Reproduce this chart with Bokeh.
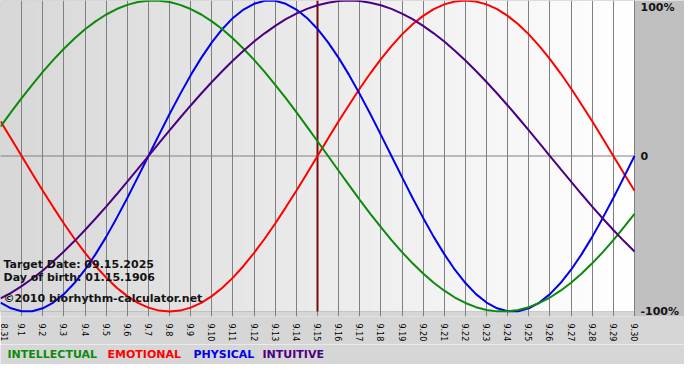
import numpy as np
from bokeh.plotting import figure
from bokeh.layouts import column
from bokeh.models import Label, FixedTicker, BoxAnnotation
from bokeh.core.properties import value
from bokeh.embed import file_html
from bokeh.resources import INLINE

# ---- data ----
dates = ["8.31", "9.1", "9.2", "9.3", "9.4", "9.5", "9.6", "9.7", "9.8", "9.9",
         "9.10", "9.11", "9.12", "9.13", "9.14", "9.15", "9.16", "9.17", "9.18",
         "9.19", "9.20", "9.21", "9.22", "9.23", "9.24", "9.25", "9.26", "9.27",
         "9.28", "9.29", "9.30"]
target_date = "9.15"

# readings every half day, from 8.31 to 9.30
physical = [-0.942, -0.979, -0.998, -0.998, -0.979, -0.942, -0.888, -0.817, -0.731, -0.631,
            -0.520, -0.398, -0.270, -0.136, 0.000, 0.136, 0.270, 0.398, 0.520, 0.631,
            0.731, 0.817, 0.888, 0.942, 0.979, 0.998, 0.998, 0.979, 0.942, 0.888,
            0.817, 0.731, 0.631, 0.520, 0.398, 0.270, 0.136, 0.000, -0.136, -0.270,
            -0.398, -0.520, -0.631, -0.731, -0.817, -0.888, -0.942, -0.979, -0.998, -0.998,
            -0.979, -0.942, -0.888, -0.817, -0.731, -0.631, -0.520, -0.398, -0.270, -0.136, 0.000]
emotional = [0.223, 0.112, 0.000, -0.112, -0.223, -0.330, -0.434, -0.532, -0.623, -0.707,
             -0.782, -0.847, -0.901, -0.944, -0.975, -0.994, -1.000, -0.994, -0.975, -0.944,
             -0.901, -0.847, -0.782, -0.707, -0.623, -0.532, -0.434, -0.330, -0.223, -0.112,
             0.000, 0.112, 0.223, 0.330, 0.434, 0.532, 0.623, 0.707, 0.782, 0.847,
             0.901, 0.944, 0.975, 0.994, 1.000, 0.994, 0.975, 0.944, 0.901, 0.847,
             0.782, 0.707, 0.623, 0.532, 0.434, 0.330, 0.223, 0.112, 0.000, -0.112, -0.223]
intellectual = [0.189, 0.282, 0.372, 0.458, 0.541, 0.618, 0.690, 0.756, 0.815, 0.866,
                0.910, 0.945, 0.972, 0.990, 0.999, 0.999, 0.990, 0.972, 0.945, 0.910,
                0.866, 0.815, 0.756, 0.690, 0.618, 0.541, 0.458, 0.372, 0.282, 0.189,
                0.095, 0.000, -0.095, -0.189, -0.282, -0.372, -0.458, -0.541, -0.618, -0.690,
                -0.756, -0.815, -0.866, -0.910, -0.945, -0.972, -0.990, -0.999, -0.999, -0.990,
                -0.972, -0.945, -0.910, -0.866, -0.815, -0.756, -0.690, -0.618, -0.541, -0.458, -0.372]
intuitive = [-0.916, -0.880, -0.837, -0.789, -0.736, -0.677, -0.614, -0.547, -0.476, -0.402,
             -0.325, -0.246, -0.165, -0.083, 0.000, 0.083, 0.165, 0.246, 0.325, 0.402,
             0.476, 0.547, 0.614, 0.677, 0.736, 0.789, 0.837, 0.880, 0.916, 0.946,
             0.969, 0.986, 0.997, 1.000, 0.997, 0.986, 0.969, 0.946, 0.916, 0.880,
             0.837, 0.789, 0.736, 0.677, 0.614, 0.547, 0.476, 0.402, 0.325, 0.246,
             0.165, 0.083, 0.000, -0.083, -0.165, -0.246, -0.325, -0.402, -0.476, -0.547, -0.614]

y_tick_vals = [1, 0, -1]
y_tick_text = ["100%", "0", "-100%"]
info_lines = ["Target Date: 09.15.2025", "Day of birth: 01.15.1906",
              "\u00a92010 biorhythm-calculator.net"]
legend_names = ["INTELLECTUAL", "EMOTIONAL", "PHYSICAL", "INTUITIVE"]

# ---- style ----
C_INT = "#0b8a0b"
C_EMO = "#ff0000"
C_PHY = "#0000ee"
C_INU = "#4b0082"
TXT = "#141414"
FONT = "DejaVu Sans"
GRID = "#808080"
PANEL = "#d6d6d6"

xmax = len(dates) - 1
xs = [i * xmax / (len(physical) - 1) for i in range(len(physical))]
day_ticks = list(range(len(dates)))

W = 684
PLOT_W = 634
x_end = xmax * W / PLOT_W

p = figure(width=W, height=344, x_range=(0, x_end), y_range=(-1.032, 1),
           output_backend="svg", toolbar_location=None, y_axis_location=None,
           min_border_left=0, min_border_right=0, min_border_top=0,
           min_border_bottom=27)
p.border_fill_color = PANEL
p.background_fill_color = PANEL
p.outline_line_color = None

# gradient background of the chart area
n = 128
g = np.linspace(0xd8, 0xff, n).astype(np.uint8)
img = np.empty((1, n), dtype=np.uint32)
view = img.view(dtype=np.uint8).reshape((1, n, 4))
view[..., 0] = g
view[..., 1] = g
view[..., 2] = g
view[..., 3] = 255
bg = p.image_rgba(image=[img], x=0, y=-1, dw=xmax, dh=2)
bg.level = "image"

# grey panel on the right
p.add_layout(BoxAnnotation(left=xmax, fill_color="#c0c0c0", fill_alpha=1.0,
                           line_color=None, level="image"))

# grid / axis
p.xgrid.ticker = FixedTicker(ticks=day_ticks)
p.xgrid.grid_line_color = GRID
p.xgrid.grid_line_alpha = 1.0
p.ygrid.visible = False

p.xaxis.ticker = FixedTicker(ticks=day_ticks)
p.xaxis.major_label_overrides = {i: d for i, d in enumerate(dates)}
p.xaxis.major_label_orientation = -np.pi / 2
p.xaxis.major_label_text_font = FONT
p.xaxis.major_label_text_font_size = "8px"
p.xaxis.major_label_text_color = "#000000"
p.xaxis.major_label_standoff = 1
p.xaxis.axis_line_color = None
p.xaxis.major_tick_line_color = None
p.xaxis.minor_tick_line_color = None

# frame box and zero line
p.add_layout(BoxAnnotation(left=0, right=xmax, bottom=-1, top=1, fill_alpha=0,
                           line_color=GRID, line_width=1, level="underlay"))
p.segment(x0=[0], y0=[0], x1=[xmax], y1=[0], line_color=GRID, line_width=1,
          level="underlay")

# target-date marker
t_idx = dates.index(target_date)
p.segment(x0=[t_idx], y0=[-1], x1=[t_idx], y1=[1], line_color="#7a0a0a",
          line_width=2)

# curves
p.line(xs, emotional, line_color=C_EMO, line_width=2)
p.line(xs, physical, line_color=C_PHY, line_width=2)
p.line(xs, intellectual, line_color=C_INT, line_width=2)
p.line(xs, intuitive, line_color=C_INU, line_width=2)

# right-hand value labels
for yv, txt in zip(y_tick_vals, y_tick_text):
    p.text(x=[xmax], y=[yv], text=[txt], x_offset=6,
           text_baseline="top" if yv == 1 else "middle",
           text_font=value(FONT), text_font_style="bold",
           text_font_size="11px", text_color=TXT)

# info text inside the plot
for txt, off in zip(info_lines, [47, 34, 13]):
    p.add_layout(Label(x=0, y=-1, text=txt, x_offset=3, y_offset=off,
                       text_baseline="middle", text_font=FONT, text_font_style="bold",
                       text_font_size="11px", text_color=TXT))

# legend strip below
lg = figure(width=W, height=20, x_range=(0, W), y_range=(0, 20),
            output_backend="svg", toolbar_location=None,
            x_axis_location=None, y_axis_location=None,
            min_border_left=0, min_border_right=0, min_border_top=0,
            min_border_bottom=0)
lg.border_fill_color = PANEL
lg.background_fill_color = PANEL
lg.outline_line_color = None
lg.grid.visible = False
lg.text(x=[7, 107, 193, 262], y=[10, 10, 10, 10], text=legend_names,
        text_color=[C_INT, C_EMO, C_PHY, C_INU], text_baseline="middle",
        text_font=value(FONT), text_font_style="bold", text_font_size="11px")

layout = column(p, lg, spacing=0)
open("out.html", "w").write(file_html(layout, INLINE))
